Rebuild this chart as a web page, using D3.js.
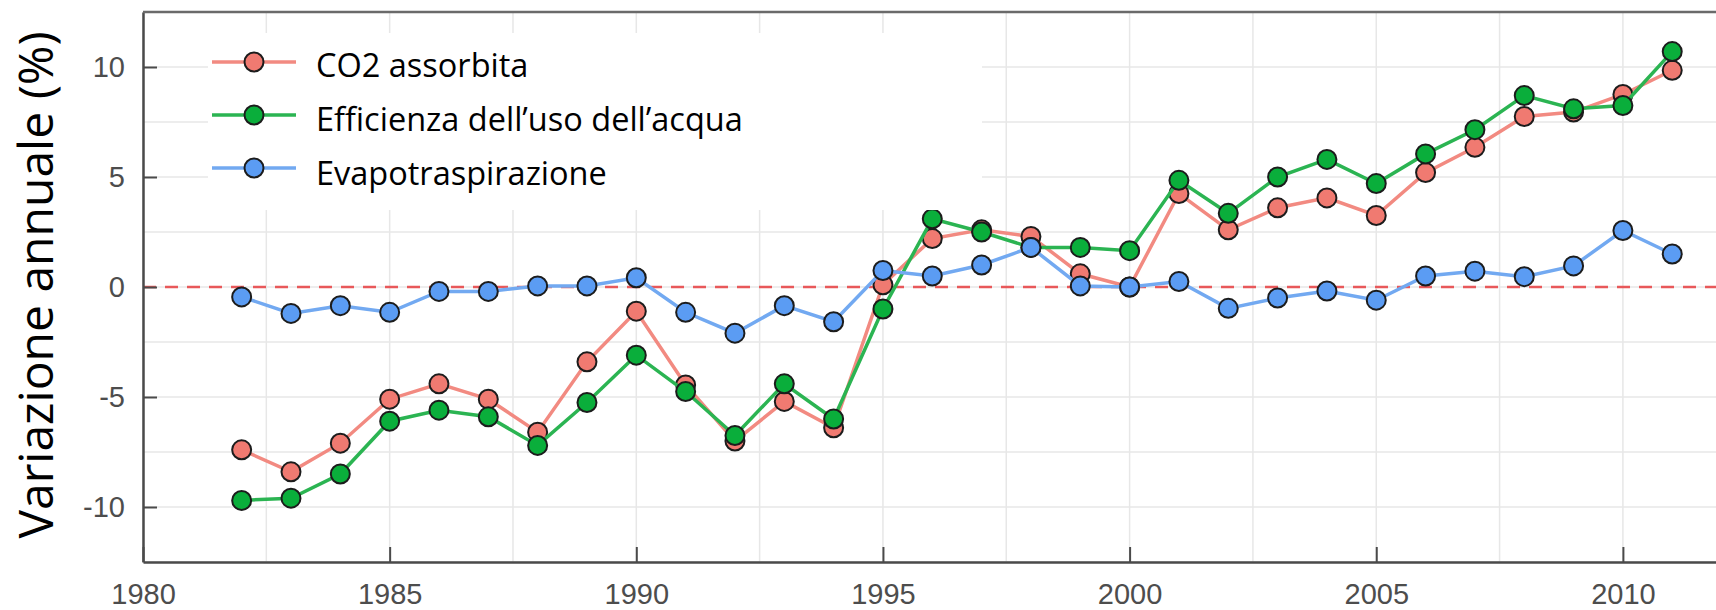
<!DOCTYPE html>
<html>
<head>
<meta charset="utf-8">
<script src="https://cdn.jsdelivr.net/npm/d3@7"></script>
<style>
  body { margin: 0; background: #fff; }
  svg { display: block; }
</style>
</head>
<body>
<div id="chart-area"></div>
<script>
// data
var years = [1982, 1983, 1984, 1985, 1986, 1987, 1988, 1989, 1990, 1991,
             1992, 1993, 1994, 1995, 1996, 1997, 1998, 1999, 2000, 2001,
             2002, 2003, 2004, 2005, 2006, 2007, 2008, 2009, 2010, 2011];
var co2 = [-7.4, -8.4, -7.1, -5.1, -4.4, -5.1, -6.6, -3.4, -1.1, -4.45,
           -7.0, -5.2, -6.4, 0.1, 2.2, 2.6, 2.3, 0.6, 0.0, 4.25,
           2.6, 3.6, 4.05, 3.25, 5.2, 6.35, 7.75, 7.95, 8.75, 9.85];
var wue = [-9.7, -9.6, -8.5, -6.1, -5.6, -5.9, -7.2, -5.25, -3.1, -4.75,
           -6.75, -4.4, -6.0, -1.0, 3.1, 2.5, 1.8, 1.8, 1.65, 4.85,
           3.35, 5.0, 5.8, 4.7, 6.05, 7.15, 8.7, 8.1, 8.25, 10.7];
var evap = [-0.45, -1.2, -0.85, -1.15, -0.2, -0.2, 0.05, 0.05, 0.42, -1.15,
            -2.1, -0.85, -1.58, 0.75, 0.5, 1.0, 1.8, 0.05, 0.0, 0.25,
            -0.97, -0.5, -0.18, -0.6, 0.5, 0.72, 0.47, 0.96, 2.57, 1.5];
var seriesNames = ["CO2 assorbita", "Efficienza dell\u2019uso dell\u2019acqua", "Evapotraspirazione"];
var xTicks = [1980, 1985, 1990, 1995, 2000, 2005, 2010];
var yTicks = [-10, -5, 0, 5, 10];

var W = 1716, H = 610;
var margin = { left: 143, top: 12, bottom: 562 };

var lineCol = ["#f28a81", "#2bb452", "#72a9f1"];
var fillCol = ["#f07a71", "#0aae3b", "#5b9cf3"];

var svg = d3.select("#chart-area")
    .append("svg")
        .attr("width", W)
        .attr("height", H);

// scales
var x = d3.scaleLinear().domain([1980, 2012]).range([margin.left, margin.left + 32 * 49.33]);
var y = d3.scaleLinear().domain([-12.5, 12.5]).range([margin.bottom, margin.top]);

// grid every 2.5
var gx = d3.range(1980, 2012.01, 2.5);
var gy = d3.range(-12.5, 12.51, 2.5);
svg.append("g").selectAll("line").data(gx).enter().append("line")
    .attr("x1", d => x(d)).attr("x2", d => x(d))
    .attr("y1", margin.top).attr("y2", margin.bottom)
    .attr("stroke", "#e7e7e7").attr("stroke-width", 1.5);
svg.append("g").selectAll("line").data(gy).enter().append("line")
    .attr("x1", margin.left).attr("x2", W)
    .attr("y1", d => y(d)).attr("y2", d => y(d))
    .attr("stroke", "#e7e7e7").attr("stroke-width", 1.5);

// zero line
svg.append("line")
    .attr("x1", margin.left).attr("x2", W)
    .attr("y1", y(0)).attr("y2", y(0))
    .attr("stroke", "#e8585a").attr("stroke-width", 2.5)
    .attr("stroke-dasharray", "13,9");

// axes (plain hyphen for negatives, like the original)
var xAxisCall = d3.axisBottom(x).tickValues(xTicks).tickFormat(function(d) { return String(d); })
    .tickSize(-15).tickSizeOuter(0).tickPadding(21);
var xAxisGroup = svg.append("g")
    .attr("transform", "translate(0," + margin.bottom + ")")
    .call(xAxisCall);

var yAxisCall = d3.axisLeft(y).tickValues(yTicks).tickFormat(function(d) { return String(d); })
    .tickSize(-14).tickSizeOuter(0).tickPadding(18);
var yAxisGroup = svg.append("g")
    .attr("transform", "translate(" + margin.left + ",0)")
    .call(yAxisCall);

[xAxisGroup, yAxisGroup].forEach(function(g) {
    g.select(".domain").attr("stroke", "#4a4a4a").attr("stroke-width", 2.5);
    g.selectAll(".tick line").attr("stroke", "#4a4a4a").attr("stroke-width", 2);
    g.selectAll(".tick text")
        .attr("fill", "#4d4d4d")
        .attr("font-family", "'Liberation Sans', Arial, sans-serif")
        .attr("font-size", "29px");
});

// top frame
svg.append("line")
    .attr("x1", margin.left).attr("x2", W)
    .attr("y1", margin.top).attr("y2", margin.top)
    .attr("stroke", "#6a6a6a").attr("stroke-width", 2.5);

// series
var allSeries = [co2, wue, evap];
var line = d3.line()
    .x(function(d, i) { return x(years[i]); })
    .y(function(d) { return y(d); });

allSeries.forEach(function(vals, k) {
    var g = svg.append("g");
    g.append("path")
        .datum(vals)
        .attr("d", line)
        .attr("fill", "none")
        .attr("stroke", lineCol[k])
        .attr("stroke-width", 3.5);
    g.selectAll("circle").data(vals).enter().append("circle")
        .attr("cx", function(d, i) { return x(years[i]); })
        .attr("cy", function(d) { return y(d); })
        .attr("r", 9.5)
        .attr("fill", fillCol[k])
        .attr("stroke", "#1c1c1c")
        .attr("stroke-width", 2);
});

// legend
var leg = svg.append("g");
leg.append("rect")
    .attr("x", 208).attr("y", 33)
    .attr("width", 774).attr("height", 177)
    .attr("fill", "#fff");
var rowY = [62, 115, 168];
seriesNames.forEach(function(name, k) {
    leg.append("line")
        .attr("x1", 212).attr("x2", 296)
        .attr("y1", rowY[k]).attr("y2", rowY[k])
        .attr("stroke", lineCol[k]).attr("stroke-width", 3.5);
    leg.append("circle")
        .attr("cx", 254).attr("cy", rowY[k]).attr("r", 9.5)
        .attr("fill", fillCol[k]).attr("stroke", "#1c1c1c").attr("stroke-width", 2);
    leg.append("text")
        .attr("x", 316).attr("y", rowY[k] + 15 + k)
        .attr("font-family", "'Open Sans', sans-serif")
        .attr("font-size", "32.5px")
        .attr("fill", "#000")
        .text(name);
});

// Y Label
svg.append("text")
    .attr("transform", "translate(53," + 285 + ") rotate(-90)")
    .attr("text-anchor", "middle")
    .attr("font-family", "'Open Sans', sans-serif")
    .attr("font-size", "48px")
    .attr("fill", "#000")
    .text("Variazione annuale (%)");
</script>
</body>
</html>
